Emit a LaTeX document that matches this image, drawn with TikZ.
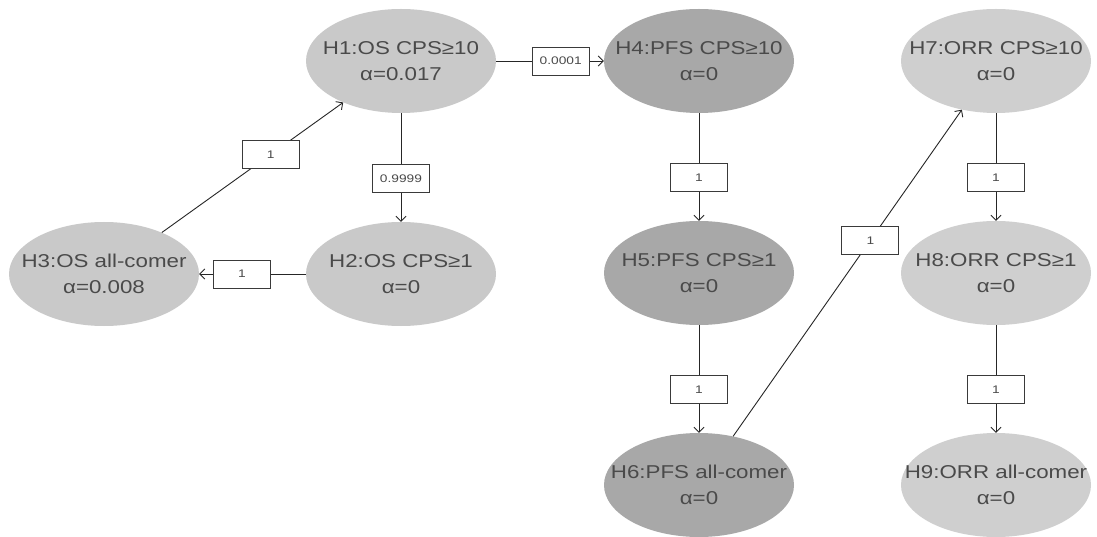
\documentclass[tikz,border=0pt]{standalone}
\usepackage{fontspec}
\usetikzlibrary{shapes.geometric,arrows.meta}
\newfontfamily\hypfont{Liberation Sans}[FakeStretch=1.2]
\newfontfamily\lblfont{Liberation Sans}[FakeStretch=1.25]
\definecolor{lightfill}{HTML}{C9C9C9}
\definecolor{darkfill}{HTML}{A8A8A8}
\definecolor{paleFill}{HTML}{CFCFCF}
\definecolor{txtgray}{HTML}{4A4A4A}
\definecolor{boxline}{HTML}{3A3A3A}
\tikzset{
  hyp/.style={ellipse, minimum width=190pt, minimum height=104pt, inner sep=0pt, draw=none},
  hyptxt/.style={align=center, text=txtgray, inner sep=0pt,
    font=\hypfont\fontsize{18.6pt}{26pt}\selectfont},
  lbl/.style={draw=boxline, fill=white, line width=0.9pt, minimum width=57pt, minimum height=28pt,
    inner sep=0pt, text=txtgray, font=\lblfont\fontsize{11pt}{13pt}\selectfont, pos=0.6},
  arr/.style={draw=black!85, line width=0.9pt, -{Straight Barb[length=5pt,width=10pt]}}
}
\begin{document}
\begin{tikzpicture}[x=1pt,y=-1pt]
\useasboundingbox[fill=white] (0,0) rectangle (1097,537);
% nodes
\node[hyp, fill=lightfill] (h1) at (401,61) {};
\node[hyp, fill=lightfill] (h2) at (401,274) {};
\node[hyp, fill=lightfill] (h3) at (104,274) {};
\node[hyp, fill=darkfill] (h4) at (699,61) {};
\node[hyp, fill=darkfill] (h5) at (699,273) {};
\node[hyp, fill=darkfill] (h6) at (699,485) {};
\node[hyp, fill=paleFill] (h7) at (996,61) {};
\node[hyp, fill=paleFill] (h8) at (996,273) {};
\node[hyp, fill=paleFill] (h9) at (996,485) {};
% texts
\node[hyptxt] (t1) at (h1) {H1:OS CPS≥10\\α=0.017};
\node[hyptxt] (t2) at (h2) {H2:OS CPS≥1\\α=0};
\node[hyptxt] (t3) at (h3) {H3:OS all-comer\\α=0.008};
\node[hyptxt] (t4) at (h4) {H4:PFS CPS≥10\\α=0};
\node[hyptxt] (t5) at (h5) {H5:PFS CPS≥1\\α=0};
\node[hyptxt] (t6) at (h6) {H6:PFS all-comer\\α=0};
\node[hyptxt] (t7) at (h7) {H7:ORR CPS≥10\\α=0};
\node[hyptxt] (t8) at (h8) {H8:ORR CPS≥1\\α=0};
\node[hyptxt] (t9) at (h9) {H9:ORR all-comer\\α=0};
% edges
\draw[arr] (h1) -- node[lbl] (l14) {0.0001} (h4);
\draw[arr] (h1) -- node[lbl] (l12) {0.9999} (h2);
\draw[arr] (h2) -- node[lbl] (l23) {1} (h3);
\draw[arr] (h3) -- node[lbl] (l31) {1} (h1);
\draw[arr] (h4) -- node[lbl] (l45) {1} (h5);
\draw[arr] (h5) -- node[lbl] (l56) {1} (h6);
\draw[arr] (h6) -- node[lbl] (l67) {1} (h7);
\draw[arr] (h7) -- node[lbl] (l78) {1} (h8);
\draw[arr] (h8) -- node[lbl] (l89) {1} (h9);
\end{tikzpicture}
\end{document}
